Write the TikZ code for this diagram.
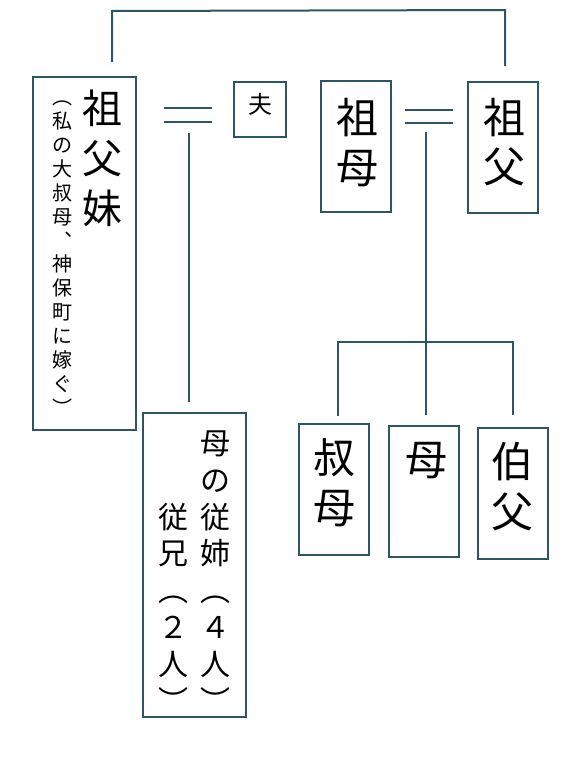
\documentclass[tikz,border=0pt]{standalone}
\usepackage{fontspec}
\newfontfamily\jp{Noto Sans CJK JP}
\definecolor{ln}{RGB}{46,86,98}
\tikzset{
  box/.style={draw=ln, line width=1.2pt, inner sep=0pt, fill=white},
  conn/.style={draw=ln, line width=2pt},
  ch/.style={font=\jp\fontsize{#1}{#1}\selectfont, inner sep=0pt,
    text height={0.88*#1}, text depth={0.12*#1}}
}
\newcommand\vcol[6]{%
  \foreach \c [count=\i from 0] in {#6} {\node[ch=#4] (#5-\i) at (#1, {#2+\i*#3}) {\c};}}
\begin{document}
\begin{tikzpicture}[x=1pt,y=-1pt]
\useasboundingbox (0,0) rectangle (571,763);
% boxes
\node[box, minimum width=103, minimum height=353] (bsofumai) at (84.5,253.5) {};
\node[box, minimum width=52, minimum height=55] (botto) at (260,109.5) {};
\node[box, minimum width=70, minimum height=131] (bsobo) at (356,146.5) {};
\node[box, minimum width=70, minimum height=131] (bsofu) at (503,147.5) {};
\node[box, minimum width=70, minimum height=131] (bshukubo) at (334,489.5) {};
\node[box, minimum width=70, minimum height=131] (bhaha) at (424,491.5) {};
\node[box, minimum width=70, minimum height=131] (bhakufu) at (513,493.5) {};
\node[box, minimum width=103, minimum height=304] (bitoko) at (194.5,565) {};
% texts
\vcol{102}{108}{50}{40}{tA}{祖,父,妹}
\vcol{62}{97}{23.9}{20}{tB}{︵,私,の,大,叔,母,︑,神,保,町,に,嫁,ぐ,︶}
\node[ch=24] (tC) at (260,104) {夫};
\vcol{357.5}{118}{50}{42}{tD}{祖,母}
\vcol{504}{118}{49}{42}{tE}{祖,父}
\vcol{334}{458}{50}{42}{tF}{叔,母}
\node[ch=42] (tG) at (426,460) {母};
\vcol{512}{462}{50}{42}{tH}{伯,父}
\vcol{215}{443}{36.8}{30}{tI}{母,の,従,姉,︵,４,人,︶}
\vcol{173}{516.6}{36.8}{30}{tJ}{従,兄,︵,２,人,︶}
% connector coordinates
\coordinate (top1) at (112,62);
\coordinate (top2) at (112,11);
\coordinate (top3) at (505,10);
\coordinate (top4) at (505,66);
\coordinate (m1a) at (164,108); \coordinate (m1b) at (212,108);
\coordinate (m1c) at (164,122); \coordinate (m1d) at (212,122);
\coordinate (d1a) at (189,133); \coordinate (d1b) at (189,402);
\coordinate (m2a) at (405,110); \coordinate (m2b) at (453,110);
\coordinate (m2c) at (405,123); \coordinate (m2d) at (453,123);
\coordinate (d2a) at (426,132); \coordinate (d2b) at (426,415);
\coordinate (c1) at (338,416); \coordinate (c2) at (338,342);
\coordinate (c3) at (513,342); \coordinate (c4) at (513,415);
% connectors
\draw[conn] (top1) -- (top2) -- (top3) -- (top4);
\draw[conn] (m1a) -- (m1b);
\draw[conn] (m1c) -- (m1d);
\draw[conn] (d1a) -- (d1b);
\draw[conn] (m2a) -- (m2b);
\draw[conn] (m2c) -- (m2d);
\draw[conn] (d2a) -- (d2b);
\draw[conn] (c1) -- (c2) -- (c3) -- (c4);
\end{tikzpicture}
\end{document}
